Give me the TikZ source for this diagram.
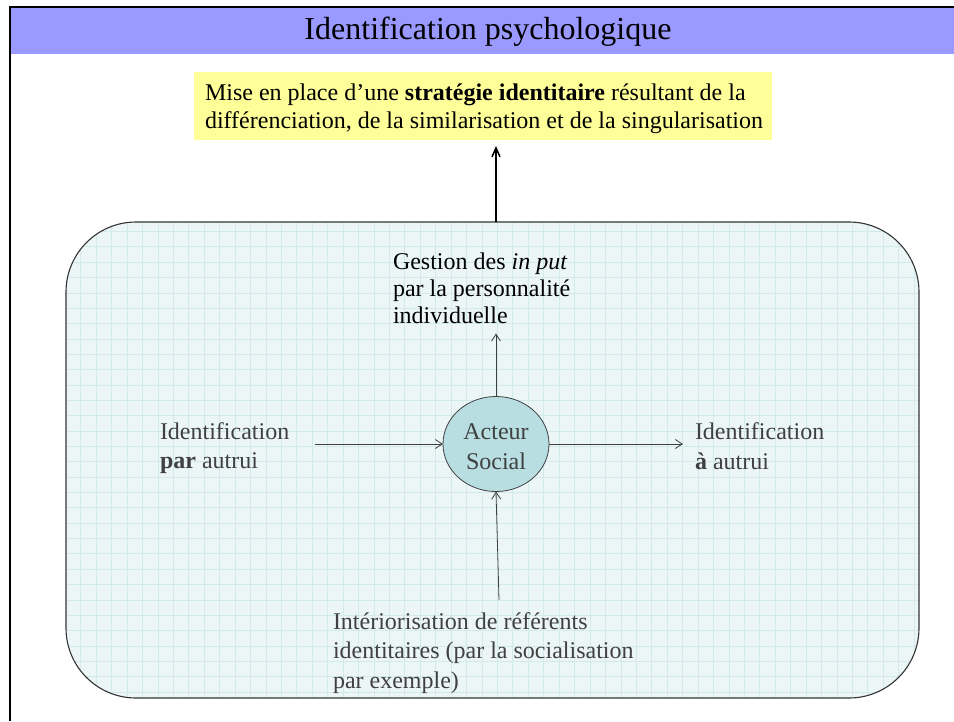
\documentclass[tikz,border=0pt]{standalone}
\usepackage{fontspec}
\setmainfont{Liberation Serif}
\usetikzlibrary{shapes.geometric,arrows.meta}

\definecolor{titleblue}{RGB}{153,153,255}
\definecolor{noteyellow}{RGB}{255,255,153}
\definecolor{panelfill}{RGB}{236,246,247}
\definecolor{panelgrid}{RGB}{210,234,234}
\definecolor{actorfill}{RGB}{184,222,225}
\definecolor{inktext}{RGB}{64,64,64}

\begin{document}
\begin{tikzpicture}[x=1pt,y=-1pt,
  every node/.style={inner sep=0pt, outer sep=0pt},
  bodytext/.style={font=\fontsize{24}{29.5}\selectfont, align=left, anchor=west},
  greytext/.style={bodytext, text=inktext},
  flow/.style={draw=inktext, line width=0.8pt, -{Straight Barb[length=7pt,width=9pt]}},
  mainflow/.style={draw=black, line width=1.5pt, -{Straight Barb[length=9pt,width=8pt]}},
  framerule/.style={draw=black, line width=2pt}
]
\useasboundingbox (0,0) rectangle (954,721);

% title band and page frame
\fill[titleblue] (10,7) rectangle (954,54);
\draw[framerule] (10,721) -- (10,7) -- (954,7);
\node[font=\fontsize{32}{38}\selectfont] (title) at (488,32) {Identification psychologique};

% resulting strategy
\node[fill=noteyellow, minimum width=578pt, minimum height=68pt] (goal) at (483,106) {};
\node[bodytext, font=\fontsize{24}{28}\selectfont] (goaltext) at (205,109)
  {Mise en place d’une \textbf{stratégie identitaire} résultant de la\\
   différenciation, de la similarisation et de la singularisation};

% squared panel background
\begin{scope}
  \clip[rounded corners=70pt] (66,222) rectangle (919,698);
  \fill[panelfill] (66,222) rectangle (919,698);
  \foreach \i in {-1,...,55}
    \draw[panelgrid, line width=0.5pt] ({80.7+15.43*\i},222) -- ({80.7+15.43*\i},698);
  \foreach \j in {-1,...,30}
    \draw[panelgrid, line width=0.5pt] (66,{246.7+15.35*\j}) -- (919,{246.7+15.35*\j});
\end{scope}
\node[draw=black!80, line width=1.1pt, rounded corners=70pt,
      minimum width=853pt, minimum height=476pt] (panel) at (492.5,460) {};

% social actor and surrounding influences
\node[ellipse, draw=inktext, line width=0.8pt, fill=actorfill,
      minimum width=106pt, minimum height=95pt,
      font=\fontsize{24}{29.5}\selectfont, text=inktext, align=center] (actor) at (496,444)
  {\rule{0pt}{21pt}Acteur\\Social};

\node[bodytext, font=\fontsize{24}{27}\selectfont] (gestion) at (393,288)
  {Gestion des \textit{in put}\\par la personnalité\\individuelle};
\node[greytext] (parautrui) at (160,448) {Identification\\\textbf{par} autrui};
\node[greytext] (aautrui) at (695,446) {Identification\\\textbf{à} autrui};
\node[greytext] (interior) at (333,653)
  {Intériorisation de référents\\identitaires (par la socialisation\\par exemple)};
\coordinate (interiortip) at (499,600);

% connectors
\draw[mainflow, shorten >=6pt] (actor |- panel.north) -- (actor |- goal.south);
\draw[flow, shorten >=10pt] (actor.north) -- (actor |- gestion.south);
\draw[flow, shorten <=26pt] (parautrui.east |- actor) -- (actor.west);
\draw[flow, shorten >=12pt] (actor.east) -- (aautrui.west |- actor);
\draw[flow] (interiortip) -- (actor.south);
\end{tikzpicture}
\end{document}
